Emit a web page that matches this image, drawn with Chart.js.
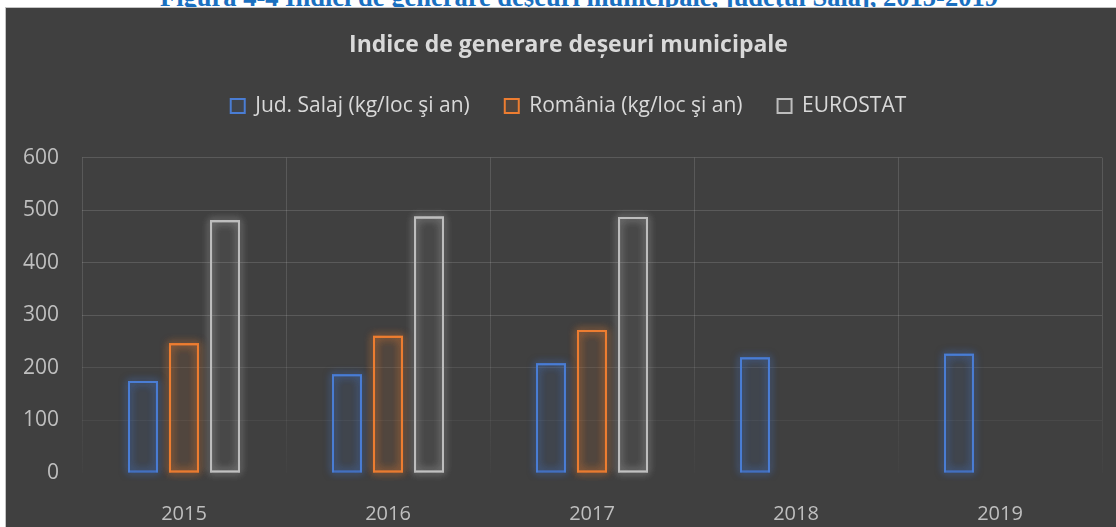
<!DOCTYPE html>
<html>
<head>
<meta charset="utf-8">
<script src="https://cdn.jsdelivr.net/npm/chart.js@4.4.1/dist/chart.umd.min.js"></script>
<style>
  html, body { margin: 0; padding: 0; background: #fff; width: 1116px; height: 527px; overflow: hidden; }
  .caption {
    position: absolute; left: 160px; top: -16px;
    font: bold 26.5px/26px "Liberation Serif", "DejaVu Serif", serif;
    color: #1a70c0; white-space: nowrap;
  }
  .panel {
    position: absolute; left: 5px; top: 7px; width: 1127px; height: 530px;
    background: #404040; border: 1px solid #c4c4c4; box-sizing: border-box;
  }
  #chart { position: absolute; left: 0; top: 0; }
</style>
</head>
<body>
<div class="caption">Figura 4-4 Indici de generare deşeuri municipale, judeţul Salaj, 2015-2019</div>
<div class="panel">
  <canvas id="chart" width="1125" height="519"></canvas>
</div>
<script>
// values
const years = ['2015', '2016', '2017', '2018', '2019'];
const salaj = [175, 188, 209, 220, 227];
const romania = [247, 261, 272, null, null];
const eurostat = [481, 488, 487, null, null];
const yTicks = [0, 100, 200, 300, 400, 500, 600];

const lineColors = ['#4a7dd4', '#ed7d31', '#bdbdbd'];
const fillColors = ['rgba(68,114,196,0.10)', 'rgba(237,125,49,0.10)', 'rgba(190,190,190,0.07)'];
const glowColors = ['rgba(68,114,196,0.8)', 'rgba(237,125,49,0.8)', 'rgba(205,205,205,0.7)'];

// soft glow round each bar, drawn under the bar at the positions chart.js computed
const glow = {
  id: 'glow',
  beforeDatasetDraw(chart, args) {
    const ctx = chart.ctx;
    const area = chart.chartArea;
    const values = chart.data.datasets[args.index].data;
    ctx.save();
    ctx.beginPath();
    ctx.rect(area.left, area.top - 20, area.right - area.left, area.bottom - area.top + 28);
    ctx.clip();
    ctx.shadowColor = glowColors[args.index];
    ctx.shadowBlur = 9;
    ctx.strokeStyle = glowColors[args.index];
    ctx.lineWidth = 2;
    args.meta.data.forEach((bar, j) => {
      if (values[j] == null) return;
      const p = bar.getProps(['x', 'y', 'base', 'width'], true);
      for (let k = 0; k < 2; k++) {
        ctx.strokeRect(p.x - p.width / 2 + 1, p.y + 1, p.width - 2, p.base - p.y - 2);
      }
    });
    ctx.restore();
  }
};

// extra room under the legend
const legendGap = {
  id: 'legendGap',
  beforeInit(chart) {
    const fit = chart.legend.fit;
    chart.legend.fit = function () {
      fit.bind(chart.legend)();
      this.height += 31;
    };
  }
};

const font = '"Open Sans", "DejaVu Sans", sans-serif';

function makeSet(label, data, i) {
  return {
    label: label,
    data: data,
    backgroundColor: fillColors[i],
    borderColor: lineColors[i],
    borderWidth: 2,
    categoryPercentage: 0.603,
    barPercentage: 0.73
  };
}

const ctx = document.getElementById('chart').getContext('2d');
new Chart(ctx, {
  type: 'bar',
  data: {
    labels: years,
    datasets: [
      makeSet('Jud. Salaj (kg/loc şi an)', salaj, 0),
      makeSet('România (kg/loc şi an)', romania, 1),
      makeSet('EUROSTAT', eurostat, 2)
    ]
  },
  options: {
    responsive: false,
    animation: false,
    layout: { padding: { left: 0, right: 0, top: 0, bottom: 1 } },
    plugins: {
      title: {
        display: true,
        text: 'Indice de generare deșeuri municipale',
        color: '#d9d9d9',
        font: { family: font, size: 23, weight: 'bold' },
        padding: { top: 24, bottom: 1 }
      },
      legend: {
        labels: {
          color: '#d9d9d9',
          font: { family: font, size: 21 },
          boxWidth: 14,
          boxHeight: 14,
          padding: 35
        }
      },
      tooltip: { enabled: false }
    },
    scales: {
      x: {
        afterFit: s => { s.height = 53; },
        grid: {
          drawTicks: false,
          color: c => {
            const area = c.chart.chartArea;
            if (!area) return 'rgba(217,217,217,0.15)';
            const g = c.chart.ctx.createLinearGradient(0, area.top, 0, area.bottom);
            g.addColorStop(0, 'rgba(217,217,217,0.17)');
            g.addColorStop(0.55, 'rgba(217,217,217,0.15)');
            g.addColorStop(1, 'rgba(217,217,217,0.02)');
            return g;
          }
        },
        border: { display: false },
        ticks: { color: '#bfbfbf', font: { family: font, size: 20 }, padding: 29 }
      },
      y: {
        min: 0,
        max: 600,
        afterFit: s => { s.width = 76; },
        afterBuildTicks: s => { s.ticks = yTicks.map(v => ({ value: v })); },
        grid: {
          drawTicks: false,
          color: c => 'rgba(217,217,217,' + (0.17 * Math.min(1, c.tick.value / 300)).toFixed(3) + ')'
        },
        border: { display: false },
        ticks: { color: '#bfbfbf', font: { family: font, size: 21 }, padding: 23 }
      },
      // empty right axis, only keeps the plot clear of the right edge
      yRight: {
        position: 'right',
        afterFit: s => { s.width = 29; },
        grid: { display: false },
        border: { display: false },
        ticks: { display: false }
      }
    }
  },
  plugins: [glow, legendGap]
});
</script>
</body>
</html>
